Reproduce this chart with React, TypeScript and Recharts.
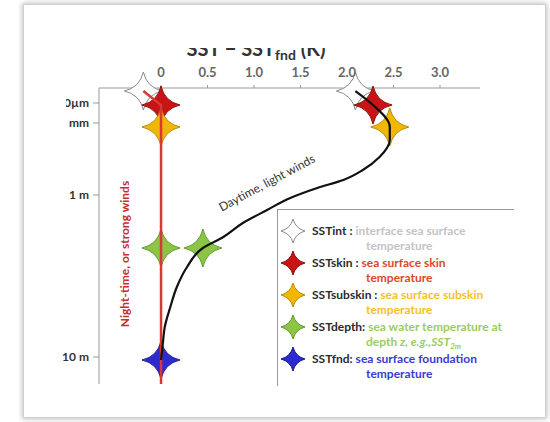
import React from 'react';
import { ScatterChart, Scatter, XAxis, YAxis, Legend, ReferenceDot } from 'recharts';

const FONT = 'Lato, "Open Sans", sans-serif';

// x: SST - SSTfnd (K)
const sstTicks = [0, 0.5, 1, 1.5, 2, 2.5, 3];
// y: schematic depth position (not to scale)
const depthTicks = [15, 35, 107, 269];
const depthLabels = ['10µm', '1 mm', '1 m', '10 m'];

// marker positions, night-time and daytime profile
const markerNames = ['SSTint', 'SSTskin', 'SSTsubskin', 'SSTdepth', 'SSTfnd'];
const markerDepth = [3, 17, 39, 160, 272];
const nightMarkerX = [-0.19, 0, 0, 0, 0];
const dayMarkerX = [2.09, 2.28, 2.46, 0.45, null];
const markerFill = ['#ffffff', '#c81414', '#f2b705', '#8cc443', '#2b2bd0'];
const markerStroke = ['#8a8a8a', '#8c0c0c', '#b88a00', '#5f9a2a', '#1a1a8c'];

// night-time / strong winds profile
const nightX = [-0.19, 0, 0];
const nightD = [3, 17, 296];

// daytime / light winds profile
const dayX = [2.09, 2.28, 2.46, 2.46, 2.35, 2.17, 1.96, 1.68, 1.39, 1.14, 0.88, 0.67, 0.45, 0.28, 0.17, 0.1, 0.04, 0.02, 0];
const dayD = [3, 17, 39, 52, 69, 82, 92, 100, 110, 122, 135, 149, 160, 179, 199, 219, 239, 255, 272];

// legend text
const legendKeys = ['SSTint :', 'SSTskin :', 'SSTsubskin :', 'SSTdepth:', 'SSTfnd:'];
const legendFirst = ['interface sea surface', 'sea surface skin', 'sea surface subskin', 'sea water temperature at', 'sea surface foundation'];
const legendColors = ['#c4c4c4', '#e0462c', '#f5c21f', '#9acd5f', '#3a3ad4'];

const nightData = nightX.map((x, i) => ({ x, d: nightD[i] }));
const dayData = dayX.map((x, i) => ({ x, d: dayD[i] }));
const markerData = markerNames.map((_, i) =>
  [nightMarkerX[i], dayMarkerX[i]].filter((x) => x !== null).map((x) => ({ x, d: markerDepth[i] }))
);

const starPath = (cx: number, cy: number, R: number, r: number) =>
  `M${cx},${cy - R} Q${cx + r},${cy - r} ${cx + R},${cy} Q${cx + r},${cy + r} ${cx},${cy + R} ` +
  `Q${cx - r},${cy + r} ${cx - R},${cy} Q${cx - r},${cy - r} ${cx},${cy - R} Z`;

const starShape = (i: number) => (props: any) => (
  <path d={starPath(props.cx, props.cy, 19, 3.5)} fill={markerFill[i]} stroke={markerStroke[i]} strokeWidth={1} />
);

const noShape = () => <g />;

// the two top labels are cut on the left in the original figure
const DepthTick = (props: any) => {
  const { x, y, payload, index } = props;
  const i = depthTicks.indexOf(payload.value);
  const cut = payload.value < 50;
  return (
    <g>
      <defs>
        <clipPath id={`depthClip${index}`}>
          <rect x={cut ? 66 : 40} y={y - 12} width={cut ? 40 : 66} height={24} />
        </clipPath>
      </defs>
      <text x={x} y={y} dy={4} textAnchor="end" clipPath={`url(#depthClip${index})`}
        fontSize={12} fontWeight="bold" fill="#333" fontFamily={FONT}>
        {depthLabels[i]}
      </text>
    </g>
  );
};

const Title = () => (
  <g>
    <defs>
      <clipPath id="titleClip">
        <rect x={0} y={48} width={550} height={30} />
      </clipPath>
    </defs>
    <text x={256} y={56} textAnchor="middle" clipPath="url(#titleClip)" fontSize={20} fontWeight="bold" fill="#333" fontFamily={FONT}>
      SST − SST<tspan fontSize={14} dy={4}>fnd</tspan><tspan dy={-4}> (K)</tspan>
    </text>
  </g>
);

const NightLabel = (props: any) => {
  const { x, y } = props.viewBox;
  return (
    <text x={x} y={y} transform={`rotate(-90 ${x} ${y})`} textAnchor="middle" dy={4}
      fontSize={12} fontWeight="bold" fill="#cc2b2b" fontFamily={FONT}>
      Night-time, or strong winds
    </text>
  );
};

const DayLabel = (props: any) => {
  const { x, y } = props.viewBox;
  return (
    <text x={x} y={y} transform={`rotate(-28 ${x} ${y})`} textAnchor="middle" dy={4}
      fontSize={12} fill="#333" fontFamily={FONT}>
      Daytime, light winds
    </text>
  );
};

const LegendStar = ({ i }: { i: number }) => (
  <svg width={26} height={28} style={{ position: 'absolute', left: 2, top: -6 }}>
    <path d={starPath(13, 14, 12, 2.5)} fill={markerFill[i]} stroke={markerStroke[i]} strokeWidth={1} />
  </svg>
);

const LegendBox = () => (
  <div style={{ position: 'relative', width: 236, height: 176, borderTop: '1.5px solid #9a9a9a', borderLeft: '1.5px solid #9a9a9a', fontFamily: FONT, fontSize: 12, fontWeight: 'bold', lineHeight: '15px' }}>
    {markerNames.map((name, i) => (
      <div key={name} style={{ position: 'absolute', left: 0, top: 13 + i * 32, width: 236 }}>
        <LegendStar i={i} />
        <div style={{ marginLeft: 34, whiteSpace: 'nowrap' }}>
          <span style={{ color: '#2a2a2a' }}>{legendKeys[i]} </span>
          <span style={{ color: legendColors[i] }}>{legendFirst[i]}</span>
        </div>
        <div style={{ marginLeft: 88, whiteSpace: 'nowrap', color: legendColors[i] }}>
          {i === 3 ? (
            <>depth <i>z, e.g.,SST<sub style={{ fontSize: 8, lineHeight: 0 }}>2m</sub></i></>
          ) : 'temperature'}
        </div>
      </div>
    ))}
  </div>
);

export default function App() {
  return (
    <div style={{ position: 'absolute', left: 0, top: 0, width: 550, height: 422, background: '#fff' }}>
      <div style={{ position: 'absolute', left: 23, top: 4, width: 521, height: 412, border: '1px solid #cfcfcf', boxShadow: '0 0 5px 1px rgba(0,0,0,0.25)', background: '#fff' }} />
      <div style={{ position: 'absolute', left: 0, top: 0 }}>
        <ScatterChart width={550} height={422} margin={{ top: 58, right: 70, bottom: 38, left: 0 }}>
          <XAxis type="number" dataKey="x" orientation="top" domain={[-0.667, 3.43]} ticks={sstTicks}
            height={30} tickSize={3} tickMargin={8} interval={0}
            tickFormatter={(v: number) => (v === 0 ? '0' : v.toFixed(1))}
            tick={{ fill: '#666', fontSize: 13, fontWeight: 'bold', fontFamily: FONT }}
            stroke="#999" label={<Title />} />
          <YAxis type="number" dataKey="d" domain={[0, 296]} reversed ticks={depthTicks} width={99}
            interval={0} tickSize={6} tickMargin={4} stroke="#999" tick={<DepthTick />} />
          {markerNames.map((name, i) => (
            <Scatter key={name} name={name} data={markerData[i]} shape={starShape(i)} isAnimationActive={false} />
          ))}
          <Scatter name="night" data={nightData} line={{ stroke: '#d63838', strokeWidth: 2.5 }}
            shape={noShape} isAnimationActive={false} />
          <Scatter name="day" data={dayData} line={{ stroke: '#111', strokeWidth: 2.2 }} lineJointType="monotoneY"
            shape={noShape} isAnimationActive={false} />
          <ReferenceDot x={-0.39} y={166} r={0} fill="none" stroke="none" label={<NightLabel />} />
          <ReferenceDot x={1.14} y={95} r={0} fill="none" stroke="none" label={<DayLabel />} />
          <Legend layout="vertical" align="center" verticalAlign="middle"
            wrapperStyle={{ left: 277, top: 209, width: 236, height: 176 }} content={() => <LegendBox />} />
        </ScatterChart>
      </div>
    </div>
  );
}
